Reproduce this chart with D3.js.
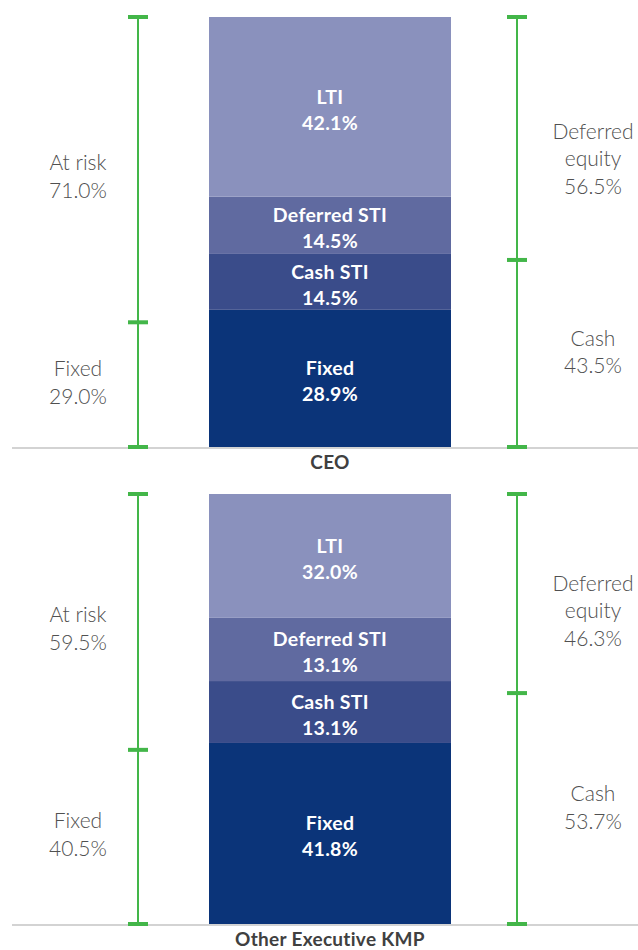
<!DOCTYPE html>
<html>
<head>
<meta charset="utf-8">
<script src="https://cdn.jsdelivr.net/npm/d3@7"></script>
<style>
  body { margin: 0; background: #fff; }
  svg { display: block; font-family: Lato, "Open Sans", sans-serif; }
</style>
</head>
<body>
<svg id="chart" width="638" height="950"></svg>
<script>
// panels (one stacked bar each)
const categories = ["CEO", "Other Executive KMP"];

// bar segments, bottom to top
const segments = ["Fixed", "Cash STI", "Deferred STI", "LTI"];
const segmentColors = ["#0b3479", "#3a4c8a", "#606aa0", "#8a91bd"];
// printed values
const ceoLabels = [28.9, 14.5, 14.5, 42.1];
const kmpLabels = [41.8, 13.1, 13.1, 32.0];
// segment heights as drawn in the picture (share of bar)
const ceoDrawn = [31.9, 13.0, 13.3, 41.8];
const kmpDrawn = [42.1, 14.4, 14.7, 28.8];

// left brackets (bottom to top)
const leftGroups = ["Fixed", "At risk"];
const ceoLeft = [29.0, 71.0];
const kmpLeft = [40.5, 59.5];
// right brackets (bottom to top)
const rightGroups = ["Cash", "Deferred\nequity"];
const ceoRight = [43.5, 56.5];
const kmpRight = [53.7, 46.3];

const panels = [
    {name: categories[0], labels: ceoLabels, drawn: ceoDrawn, left: ceoLeft, right: ceoRight},
    {name: categories[1], labels: kmpLabels, drawn: kmpDrawn, left: kmpLeft, right: kmpRight}
];

const WIDTH = 638;
const BAR_LEFT = 209, BAR_RIGHT = 451;
const LEFT_X = 138, RIGHT_X = 517;
const GREEN = "#43b649";
const TEXT_GREY = "#505050";

const svg = d3.select("#chart");

// vertical position of each panel
const panelScale = d3.scaleBand()
    .domain(categories)
    .range([17, 17 + 2 * 477])
    .paddingInner(0);
const PANEL_H = 430;

// stacks [start, end] from a list of values
function stack(values){
    let acc = 0;
    return values.map(v => { const s = acc; acc += v; return [s, acc]; });
}

function multiLine(sel, lines, lineH){
    lines.forEach((t, i) => {
        sel.append("tspan").attr("x", sel.attr("x")).attr("dy", i === 0 ? 0 : lineH).text(t);
    });
}

panels.forEach(p => {
    const top = panelScale(p.name);
    const y = d3.scaleLinear().domain([0, 100]).range([top + PANEL_H, top]);
    const g = svg.append("g").attr("class", "panel");

    // stacked bar
    const segs = stack(p.drawn);
    g.selectAll("rect.seg")
        .data(segs)
        .enter()
        .append("rect")
        .attr("class", "seg")
        .attr("x", BAR_LEFT)
        .attr("width", BAR_RIGHT - BAR_LEFT)
        .attr("y", d => y(d[1]))
        .attr("height", d => y(d[0]) - y(d[1]))
        .style("fill", (d, i) => segmentColors[i]);

    // segment labels
    segs.forEach((d, i) => {
        const c = (y(d[0]) + y(d[1])) / 2;
        const t = g.append("text")
            .attr("x", (BAR_LEFT + BAR_RIGHT) / 2)
            .attr("y", c - 3)
            .attr("text-anchor", "middle")
            .style("fill", "#fff")
            .style("font-weight", 700)
            .style("font-size", "19.5px")
            .style("letter-spacing", "0.3px");
        multiLine(t, [segments[i], p.labels[i].toFixed(1) + "%"], 26);
    });

    // axis line + category name
    const base = y(0) + 1;
    g.append("line")
        .attr("x1", 12).attr("x2", WIDTH)
        .attr("y1", base).attr("y2", base)
        .style("stroke", "#c4c4c4")
        .style("stroke-width", 1.5);
    g.append("text")
        .attr("x", (BAR_LEFT + BAR_RIGHT) / 2)
        .attr("y", base + 21)
        .attr("text-anchor", "middle")
        .style("fill", "#404040")
        .style("font-weight", 700)
        .style("font-size", "19px")
        .style("letter-spacing", "0.3px")
        .text(p.name);

    // brackets
    function bracket(x, values){
        const st = stack(values);
        const ticks = [0].concat(st.map(d => d[1]));
        g.append("line")
            .attr("x1", x).attr("x2", x)
            .attr("y1", y(100)).attr("y2", y(0))
            .style("stroke", GREEN).style("stroke-width", 2);
        g.selectAll(null)
            .data(ticks)
            .enter()
            .append("rect")
            .attr("x", x - 10).attr("width", 20)
            .attr("y", d => y(d) - 2).attr("height", 4)
            .style("fill", GREEN);
        return st;
    }

    const leftSt = bracket(LEFT_X, p.left);
    const rightSt = bracket(RIGHT_X, p.right);

    const LINE_H = 27.5;
    function sideLabel(x, lines, lastBaseline){
        const t = g.append("text")
            .attr("x", x)
            .attr("y", lastBaseline - (lines.length - 1) * LINE_H)
            .attr("text-anchor", "middle")
            .style("fill", TEXT_GREY)
            .style("font-weight", 300)
            .style("font-size", "21px");
        multiLine(t, lines, LINE_H);
    }

    // left: top label sits slightly below its segment centre
    const lTopC = (y(leftSt[1][0]) + y(leftSt[1][1])) / 2;
    const lTopLast = lTopC + 28;
    sideLabel(78, [leftGroups[1], p.left[1].toFixed(1) + "%"], lTopLast);
    const lBotC = (y(leftSt[0][0]) + y(leftSt[0][1])) / 2;
    sideLabel(78, [leftGroups[0], p.left[0].toFixed(1) + "%"], lBotC + 19);

    // right: top label ends just above the left one's last line
    sideLabel(593, rightGroups[1].split("\n").concat([p.right[1].toFixed(1) + "%"]), lTopLast - 4);
    const rBotC = (y(rightSt[0][0]) + y(rightSt[0][1])) / 2;
    sideLabel(593, [rightGroups[0], p.right[0].toFixed(1) + "%"], rBotC + 20);
});
</script>
</body>
</html>
